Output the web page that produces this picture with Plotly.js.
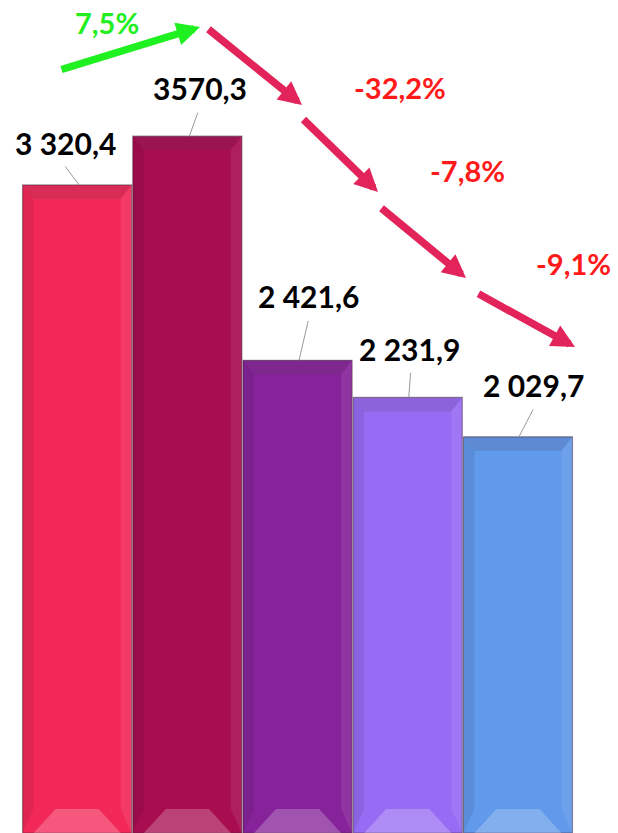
<!DOCTYPE html>
<html>
<head>
<meta charset="utf-8">
<script src="https://cdn.plot.ly/plotly-3.0.1.min.js"></script>
<style>html,body{margin:0;padding:0;background:#fff;}#chart{width:618px;height:833px;}</style>
</head>
<body>
<div id="chart"></div>
<script>
// ---- data ----
const categories = [0, 1, 2, 3, 4];
const values = [3320.4, 3570.3, 2421.6, 2231.9, 2029.7];
const valueLabels = ['3 320,4', '3570,3', '2 421,6', '2 231,9', '2 029,7'];
const changeLabels = ['7,5%', '-32,2%', '-7,8%', '-9,1%'];
const barColors = ['#F22958', '#A80D50', '#87239A', '#976CF4', '#6199EB'];

// ---- geometry / style config ----
const W = 618, H = 833;
const yMax = 4268;
const xRange = [-0.7, 4.908];
const pxPerX = W / (xRange[1] - xRange[0]);
const pxPerY = H / yMax;
const halfBar = 0.495;

// label offsets (pixels) relative to bar top center
const labelOff = [[-12, -42], [13, -48], [11, -64], [2, -48], [16, -52]];
const leaderTip = [2, 2, 1.5, 1, 1];
const leaderTail = [[-13, -20], [11, -25], [11, -41], [3, -26], [16, -29]];

// change arrows (pixel positions tail -> tip)
const arrowDefs = [
  {tail: [60, 70], tip: [200, 27], color: '#1FF01F'},
  {tail: [207, 28], tip: [302, 105], color: '#E2245A'},
  {tail: [302, 118], tip: [378, 192], color: '#E2245A'},
  {tail: [380, 207], tip: [466, 278], color: '#E2245A'},
  {tail: [477, 293], tip: [575, 347], color: '#E2245A'}
];
const labelPos = [[107, 23], [400, 88], [467, 170], [573, 264]];
const labelColors = ['#22EE22', '#FF1A1A', '#FF1A1A', '#FF1A1A'];

const trace = {
  type: 'bar',
  x: categories,
  y: values,
  marker: {color: barColors, line: {color: 'rgba(70,40,60,0.5)', width: 1.2}},
  hoverinfo: 'skip'
};

// bevel shapes derived from data
const shapes = [];
const insX = 11 / pxPerX, insTop = 14 / pxPerY, insBot = 24 / pxPerY, insBotX = 22 / pxPerX;
values.forEach((v, i) => {
  const x0 = categories[i] - halfBar, x1 = categories[i] + halfBar;
  const top = v, bot = 0;
  shapes.push({type: 'path', xref: 'x', yref: 'y', line: {width: 0},
    fillcolor: 'rgba(80,60,80,0.16)',
    path: `M${x0},${top} L${x1},${top} L${x1 - insX},${top - insTop} L${x0 + insX},${top - insTop} Z`});
  shapes.push({type: 'path', xref: 'x', yref: 'y', line: {width: 0},
    fillcolor: 'rgba(0,0,0,0.08)',
    path: `M${x0},${top} L${x0 + insX},${top - insTop} L${x0 + insX},${bot + insBot} L${x0},${bot} Z`});
  shapes.push({type: 'path', xref: 'x', yref: 'y', line: {width: 0},
    fillcolor: 'rgba(255,255,255,0.08)',
    path: `M${x1},${top} L${x1 - insX},${top - insTop} L${x1 - insX},${bot + insBot} L${x1},${bot} Z`});
  shapes.push({type: 'path', xref: 'x', yref: 'y', line: {width: 0},
    fillcolor: 'rgba(255,255,255,0.22)',
    path: `M${x0 + insX},${bot} L${x1 - insX},${bot} L${x1 - insBotX - insX},${bot + insBot} L${x0 + insBotX + insX},${bot + insBot} Z`});
});

const annotations = [];
const valFont = {family: 'Lato, "Noto Sans", sans-serif', size: 30, color: '#000'};
values.forEach((v, i) => {
  annotations.push({x: categories[i], y: v, xref: 'x', yref: 'y', text: '<b>' + valueLabels[i] + '</b>',
    showarrow: false, xshift: labelOff[i][0], yshift: -labelOff[i][1], font: valFont,
    xanchor: 'center', yanchor: 'middle'});
  annotations.push({x: categories[i] + leaderTip[i] / pxPerX, y: v, xref: 'x', yref: 'y', text: '',
    showarrow: true, arrowhead: 0, arrowwidth: 1, arrowcolor: '#9a9a9a',
    ax: leaderTail[i][0] - leaderTip[i], ay: leaderTail[i][1], standoff: 0});
});
arrowDefs.forEach((a) => {
  annotations.push({x: a.tip[0] / W, y: 1 - a.tip[1] / H, xref: 'paper', yref: 'paper', text: '',
    showarrow: true, arrowhead: 2, arrowsize: 0.62, arrowwidth: 7.5, arrowcolor: a.color,
    ax: a.tail[0] - a.tip[0], ay: a.tail[1] - a.tip[1], standoff: 0, startstandoff: 0});
});
changeLabels.forEach((t, k) => {
  annotations.push({x: labelPos[k][0] / W, y: 1 - labelPos[k][1] / H, xref: 'paper', yref: 'paper',
    text: '<b>' + t + '</b>', showarrow: false, xanchor: 'center', yanchor: 'middle',
    font: {family: 'Lato, "Noto Sans", sans-serif', size: 29, color: labelColors[k]}});
});

const layout = {
  width: W, height: H,
  margin: {l: 0, r: 0, t: 0, b: 0, pad: 0},
  paper_bgcolor: '#fff', plot_bgcolor: '#fff',
  showlegend: false,
  bargap: 0.01,
  xaxis: {range: xRange, visible: false, fixedrange: true},
  yaxis: {range: [0, yMax], visible: false, fixedrange: true},
  shapes: shapes,
  annotations: annotations
};

Plotly.newPlot('chart', [trace], layout, {displayModeBar: false, staticPlot: true});
</script>
</body>
</html>
